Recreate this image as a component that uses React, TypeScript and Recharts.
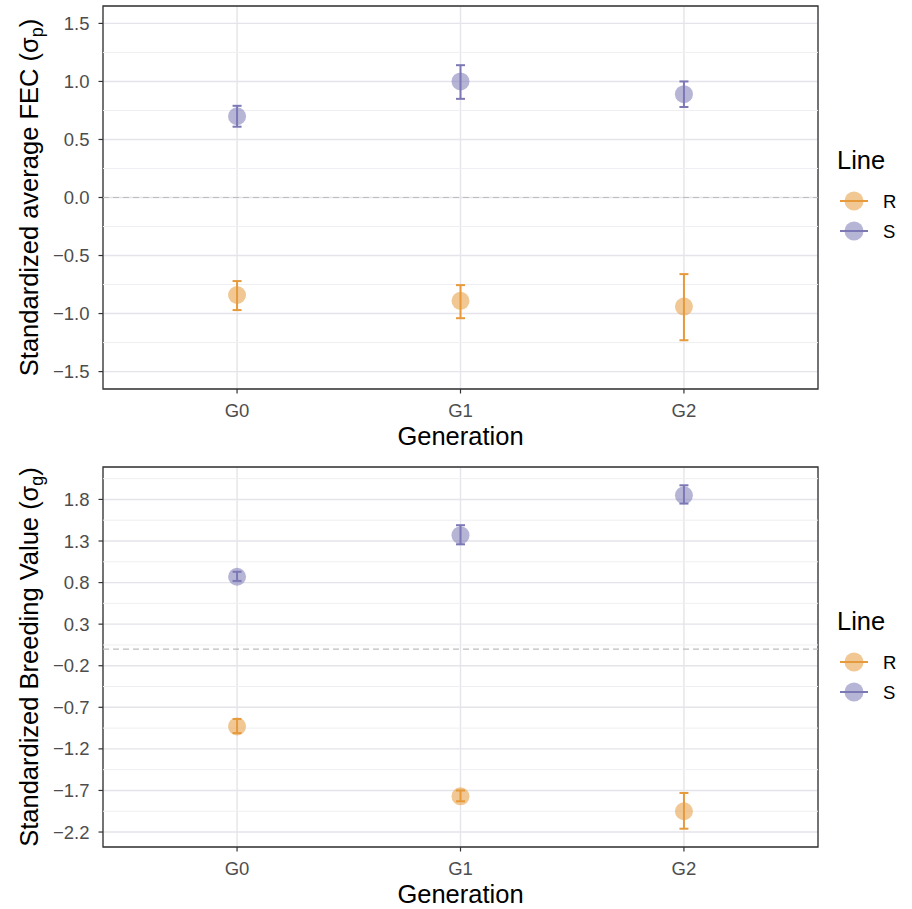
import React from 'react';
import {
  ScatterChart,
  Scatter,
  XAxis,
  YAxis,
  CartesianGrid,
  ReferenceLine,
  ReferenceArea,
  ErrorBar,
  Label,
} from 'recharts';

// ---------- data ----------
const generations = ['G0', 'G1', 'G2'];
const lineNames = ['R', 'S'];

const fecR = [-0.84, -0.89, -0.94];
const fecRLow = [-0.97, -1.04, -1.23];
const fecRHigh = [-0.72, -0.755, -0.66];
const fecS = [0.7, 1.0, 0.89];
const fecSLow = [0.61, 0.85, 0.78];
const fecSHigh = [0.79, 1.14, 1.0];
const fecTicks = [-1.5, -1.0, -0.5, 0.0, 0.5, 1.0, 1.5];
const fecMinor = [-1.25, -0.75, -0.25, 0.25, 0.75, 1.25];
const fecDomain = [-1.65, 1.65];

const bvR = [-0.93, -1.77, -1.95];
const bvRLow = [-1.01, -1.83, -2.16];
const bvRHigh = [-0.84, -1.7, -1.73];
const bvS = [0.87, 1.37, 1.85];
const bvSLow = [0.82, 1.26, 1.75];
const bvSHigh = [0.93, 1.49, 1.97];
const bvTicks = [-2.2, -1.7, -1.2, -0.7, -0.2, 0.3, 0.8, 1.3, 1.8];
const bvMinor = [-1.95, -1.45, -0.95, -0.45, 0.05, 0.55, 1.05, 1.55, 2.05];
const bvDomain = [-2.38, 2.19];

// ---------- style ----------
const FONT = '"Liberation Sans", Arial, Helvetica, sans-serif';
const COLOR_R = '#E69A3C';
const COLOR_S = '#7B78B5';
const lineColors = [COLOR_R, COLOR_S];
const TICK_FS = 18.5;
const TITLE_FS = 25.5;

type Row = { x: number; y: number; err: [number, number] };

function buildRows(vals: number[], lows: number[], highs: number[]): Row[] {
  return vals.map((v, i) => ({ x: i + 1, y: v, err: [v - lows[i], highs[i] - v] }));
}

const makeDot = (color: string) => (props: any) => {
  const { cx, cy } = props;
  if (cx == null || cy == null) return <g />;
  return <circle cx={cx} cy={cy} r={9} fill={color} fillOpacity={0.55} stroke="none" />;
};
const emptyShape = () => <g />;

type PanelProps = {
  height: number;
  marginTop: number;
  xAxisHeight: number;
  domain: number[];
  ticks: number[];
  minor: number[];
  tickFmt: (v: number) => string;
  rowsR: Row[];
  rowsS: Row[];
  titleMain: string;
  titleSub: string;
};

function Panel(p: PanelProps) {
  const yTitle = (props: any) => {
    const vb = props.viewBox || {};
    const cy = vb.y + vb.height / 2;
    const bx = 38;
    return (
      <text
        x={bx}
        y={cy}
        transform={`rotate(-90, ${bx}, ${cy})`}
        textAnchor="middle"
        fontSize={TITLE_FS}
        fontFamily={FONT}
        fill="#000"
      >
        {p.titleMain}
        <tspan fontSize={TITLE_FS * 0.7} dy={5}>{p.titleSub}</tspan>
        <tspan dy={-5}>)</tspan>
      </text>
    );
  };
  const xTitle = (props: any) => {
    const vb = props.viewBox || {};
    return (
      <text
        x={vb.x + vb.width / 2}
        y={vb.y + 56}
        textAnchor="middle"
        fontSize={TITLE_FS}
        fontFamily={FONT}
        fill="#000"
      >
        Generation
      </text>
    );
  };
  return (
    <ScatterChart
      width={912}
      height={p.height}
      margin={{ top: p.marginTop, right: 94, bottom: 0, left: 0 }}
    >
      <CartesianGrid stroke="#E4E4EA" strokeWidth={1.4} />
      {p.minor.map((m) => (
        <ReferenceLine key={'m' + m} y={m} stroke="#EFEFF3" strokeWidth={1} />
      ))}
      <ReferenceLine y={0} stroke="#BDBDBD" strokeWidth={1.2} strokeDasharray="6 4" />
      <XAxis
        type="number"
        dataKey="x"
        domain={[0.4, 3.6]}
        ticks={[1, 2, 3]}
        tickFormatter={(v: number) => generations[v - 1]}
        height={p.xAxisHeight}
        axisLine={false}
        tickSize={4.5}
        tickMargin={10}
        tickLine={{ stroke: '#333333', strokeWidth: 1.2 }}
        tick={{ fill: '#4D4D4D', fontSize: TICK_FS, fontFamily: FONT }}
        allowDataOverflow
        label={<Label content={xTitle} />}
      />
      <YAxis
        type="number"
        dataKey="y"
        domain={p.domain}
        ticks={p.ticks}
        tickFormatter={p.tickFmt}
        width={103}
        axisLine={false}
        tickSize={4.5}
        tickMargin={9}
        tickLine={{ stroke: '#333333', strokeWidth: 1.2 }}
        tick={{ fill: '#4D4D4D', fontSize: TICK_FS, fontFamily: FONT }}
        allowDataOverflow
        interval={0}
        label={<Label content={yTitle} />}
      />
      <Scatter name={lineNames[0]} data={p.rowsR} shape={makeDot(COLOR_R)} isAnimationActive={false} />
      <Scatter name={lineNames[1]} data={p.rowsS} shape={makeDot(COLOR_S)} isAnimationActive={false} />
      <Scatter data={p.rowsR} shape={emptyShape} isAnimationActive={false} legendType="none">
        <ErrorBar dataKey="err" direction="y" width={4.5} strokeWidth={2} stroke={COLOR_R} isAnimationActive={false} />
      </Scatter>
      <Scatter data={p.rowsS} shape={emptyShape} isAnimationActive={false} legendType="none">
        <ErrorBar dataKey="err" direction="y" width={4.5} strokeWidth={2} stroke={COLOR_S} isAnimationActive={false} />
      </Scatter>
      <ReferenceArea
        x1={0.4}
        x2={3.6}
        y1={p.domain[0]}
        y2={p.domain[1]}
        fill="none"
        fillOpacity={0}
        stroke="#333333"
        strokeWidth={1.3}
        ifOverflow="visible"
      />
    </ScatterChart>
  );
}

function LegendBlock({ top }: { top: number }) {
  return (
    <g transform={`translate(0, ${top})`}>
      <text x={17} y={29} fontSize={TITLE_FS} fontFamily={FONT} fill="#000">
        Line
      </text>
      {lineNames.map((n, i) => {
        const cy = 61 + i * 30;
        return (
          <g key={n}>
            <circle cx={34} cy={cy} r={9.5} fill={lineColors[i]} fillOpacity={0.55} />
            <line x1={20} x2={48} y1={cy} y2={cy} stroke={lineColors[i]} strokeWidth={2} />
            <text x={63} y={cy + 7} fontSize={TICK_FS} fontFamily={FONT} fill="#000">
              {n}
            </text>
          </g>
        );
      })}
    </g>
  );
}

export default function App() {
  const fecRowsR = buildRows(fecR, fecRLow, fecRHigh);
  const fecRowsS = buildRows(fecS, fecSLow, fecSHigh);
  const bvRowsR = buildRows(bvR, bvRLow, bvRHigh);
  const bvRowsS = buildRows(bvS, bvSLow, bvSHigh);
  return (
    <div style={{ position: 'absolute', left: 0, top: 0, width: 912, height: 909, background: '#fff' }}>
      <div style={{ position: 'absolute', left: 0, top: 0 }}>
        <Panel
          height={455}
          marginTop={6}
          xAxisHeight={66}
          domain={fecDomain}
          ticks={fecTicks}
          minor={fecMinor}
          tickFmt={(v) => v.toFixed(1).replace('-', '\u2212')}
          rowsR={fecRowsR}
          rowsS={fecRowsS}
          titleMain="Standardized average FEC (σ"
          titleSub="p"
        />
      </div>
      <div style={{ position: 'absolute', left: 0, top: 455 }}>
        <Panel
          height={454}
          marginTop={12}
          xAxisHeight={62}
          domain={bvDomain}
          ticks={bvTicks}
          minor={bvMinor}
          tickFmt={(v) => v.toFixed(1).replace('-', '\u2212')}
          rowsR={bvRowsR}
          rowsS={bvRowsS}
          titleMain="Standardized Breeding Value (σ"
          titleSub="g"
        />
      </div>
      <svg style={{ position: 'absolute', left: 820, top: 0 }} width={92} height={909}>
        <LegendBlock top={140} />
        <LegendBlock top={601} />
      </svg>
    </div>
  );
}
